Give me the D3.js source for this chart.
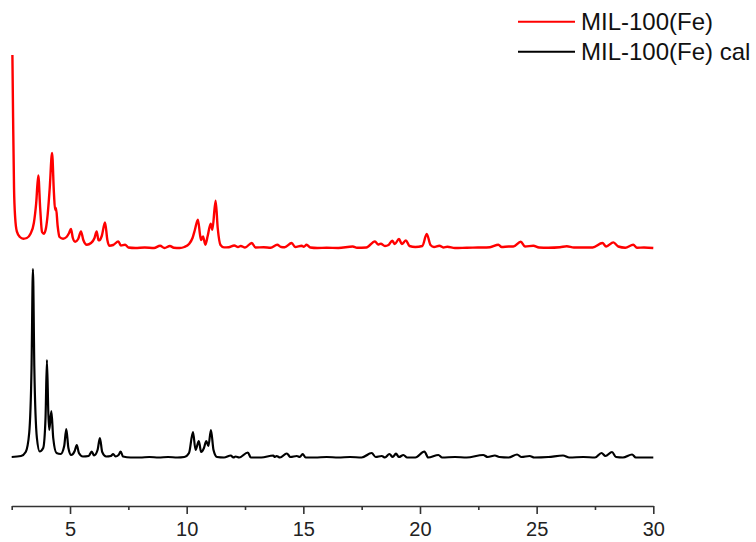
<!DOCTYPE html>
<html>
<head>
<meta charset="utf-8">
<script src="https://cdn.jsdelivr.net/npm/d3@7"></script>
<style>
  html, body { margin: 0; padding: 0; background: #fff; }
  svg { display: block; }
  text { font-family: "Liberation Sans", Arial, sans-serif; }
</style>
</head>
<body>
<svg id="chart" width="756" height="542"></svg>
<script>
// Diffraction angle (2θ, degrees) and intensity (a.u.) for the measured sample
const measured2Theta = [
  2.53, 2.56, 2.6, 2.65, 2.72, 2.85, 3.0, 3.15, 3.3, 3.45, 3.55, 3.64, 3.72, 3.8, 3.88, 3.97,
  4.04, 4.13, 4.23, 4.31, 4.36, 4.4, 4.47, 4.55, 4.7, 4.85, 4.96, 5.04, 5.12, 5.22, 5.35, 5.47,
  5.57, 5.72, 5.9, 6.05, 6.14, 6.22, 6.26, 6.36, 6.5, 6.6, 6.68, 6.85, 7.07, 7.18, 7.36, 7.5,
  7.8, 8.2, 8.6, 8.86, 9.05, 9.28, 9.45, 9.7, 9.9, 10.1, 10.25, 10.35, 10.48, 10.58, 10.62, 10.7,
  10.8, 10.9, 11.03, 11.1, 11.24, 11.33, 11.45, 11.6, 11.8, 12.04, 12.2, 12.32, 12.5, 12.79, 12.95, 13.3,
  13.6, 13.88, 14.05, 14.2, 14.5, 14.65, 14.93, 15.02, 15.14, 15.3, 15.6, 16.0, 16.5, 17.12, 17.3, 17.7,
  18.07, 18.2, 18.32, 18.5, 18.65, 18.81, 18.92, 19.1, 19.22, 19.4, 19.55, 19.8, 20.1, 20.29, 20.45, 20.6,
  20.83, 21.0, 21.17, 21.5, 22.0, 22.5, 23.0, 23.36, 23.5, 23.8, 24.0, 24.32, 24.5, 24.86, 25.1, 25.5,
  26.0, 26.29, 26.6, 27.0, 27.4, 27.82, 27.98, 28.29, 28.5, 28.8, 29.14, 29.3, 29.6, 30.0
];
const measuredIntensity = [
  193, 130, 60, 30, 16.6, 11, 9.3, 10, 14, 25, 45, 72.6, 40, 16, 14.3, 20,
  33, 60, 95, 55, 38, 40, 22, 11, 9.3, 11, 15, 19, 10, 6.3, 9, 16.6,
  8, 3.3, 5, 10, 16.6, 8, 7.6, 12, 25.6, 8, 2.3, 3, 6.6, 2.5, 3.3, 0.5,
  0, 0.5, 0, 2.3, 0, 2, 0.3, 0, 1, 4, 10, 18, 28.3, 12, 8, 11.6,
  3.3, 12, 24.3, 18.3, 47.3, 20, 3, 0.6, 0.8, 2.5, 1, 2, 0.5, 5, 0.5, 0.8,
  0.3, 3.3, 1, 0.8, 5, 1, 2.3, 1.2, 3.3, 0.5, 0, 0.3, 0, 1.5, 0.3, 0.5,
  6.6, 3.5, 4.3, 2, 3, 7.3, 4, 9, 4, 7.6, 2, 1, 2, 14, 3, 1,
  2.3, 0.5, 1.3, 0, 0.3, 0.5, 0.8, 3.3, 1, 1.5, 1.5, 6.3, 1.5, 2.3, 0.5, 0.3,
  0.8, 1.8, 0.5, 0.5, 0.5, 5, 1.5, 5.6, 1.5, 0.3, 3.3, 0.3, 0.5, 0
];

// Simulated pattern from the crystal structure
const calc2Theta = [
  2.5, 2.9, 3.1, 3.25, 3.35, 3.41, 3.47, 3.58, 3.7, 3.85, 3.95, 4.01, 4.07, 4.11, 4.2, 4.28,
  4.42, 4.6, 4.75, 4.84, 4.93, 5.05, 5.2, 5.29, 5.38, 5.55, 5.8, 5.93, 6.03, 6.18, 6.28, 6.38,
  6.55, 6.75, 6.85, 6.95, 7.08, 7.17, 7.27, 7.6, 8.0, 8.4, 8.8, 9.2, 9.6, 9.9, 10.1, 10.27,
  10.38, 10.52, 10.62, 10.74, 10.84, 10.93, 11.04, 11.15, 11.3, 11.6, 11.89, 12.0, 12.1, 12.25, 12.62, 12.75,
  13.2, 13.71, 13.78, 13.85, 14.0, 14.29, 14.45, 14.72, 14.85, 14.97, 15.1, 15.5, 16.0, 16.5, 17.0, 17.5,
  17.93, 18.1, 18.36, 18.5, 18.69, 18.83, 18.97, 19.1, 19.29, 19.45, 19.8, 20.19, 20.35, 20.79, 20.95, 21.5,
  22.0, 22.71, 22.9, 23.21, 23.4, 23.8, 24.16, 24.35, 24.7, 24.9, 25.5, 26.13, 26.4, 27.0, 27.5, 27.78,
  27.95, 28.23, 28.4, 28.7, 29.09, 29.25, 29.6, 30.0
];
const calcIntensity = [
  1, 2, 6, 25, 90, 189, 90, 20, 6.5, 10, 40, 98, 45, 28, 47, 20,
  5, 4, 12, 29, 10, 3, 7, 13, 5, 1.5, 2, 6.5, 2.5, 8, 20, 6,
  1.5, 2, 4, 1.5, 3, 6.5, 1.5, 0.5, 0.5, 1, 0.5, 1, 0.5, 1, 5, 26,
  8, 17, 6, 10, 17, 12, 28, 8, 1, 0.5, 2.5, 0.5, 1.5, 0.5, 5.5, 0.5,
  0.5, 2.5, 1, 2, 0.5, 4.5, 1, 2, 1, 4, 0.5, 0.5, 1, 0.5, 1, 0.5,
  5, 1, 2, 0.5, 4, 1, 4.3, 1, 3, 0.5, 0.5, 6.5, 0.5, 3, 0.5, 1,
  0.5, 3, 1, 2.5, 1, 0.5, 3.5, 1, 2, 0.5, 1, 2.5, 0.5, 1, 0.5, 5,
  2, 6, 1, 0.5, 3.5, 0.5, 0.5, 0.5
];

// Vertical shift that stacks the measured pattern above the simulated one
const measuredOffset = 210;

const xTicks = [5, 10, 15, 20, 25, 30];
const xMinorTicks = [2.5, 7.5, 12.5, 17.5, 22.5, 27.5];

const seriesNames = ["MIL-100(Fe)", "MIL-100(Fe) cal"];
const seriesColors = ["#ff0000", "#000000"];

const svg = d3.select("#chart");

const x = d3.scaleLinear().domain([2.5, 30]).range([11.7, 653.3]);
const y = d3.scaleLinear().domain([0, 450]).range([458, 8]);

const line = d3.line()
  .x(d => x(d[0]))
  .y(d => y(d[1]))
  .curve(d3.curveMonotoneX);

const measured = measured2Theta.map((t, i) => [t, measuredIntensity[i] + measuredOffset]);
const calc = calc2Theta.map((t, i) => [t, calcIntensity[i]]);

svg.append("path")
  .datum(calc)
  .attr("fill", "none")
  .attr("stroke", seriesColors[1])
  .attr("stroke-width", 2.2)
  .attr("stroke-linejoin", "round")
  .attr("d", line);

svg.append("path")
  .datum(measured)
  .attr("fill", "none")
  .attr("stroke", seriesColors[0])
  .attr("stroke-width", 2.4)
  .attr("stroke-linejoin", "round")
  .attr("d", line);

// Bottom axis: major ticks with labels, minor ticks between them
const axisY = 506;
const axisG = svg.append("g").attr("transform", `translate(0,${axisY})`);

axisG.call(d3.axisBottom(x).tickValues(xTicks).tickSize(8).tickSizeOuter(0).tickPadding(8)
  .tickFormat(d3.format("d")));
axisG.append("g").call(d3.axisBottom(x).tickValues(xMinorTicks).tickSize(4).tickFormat(""))
  .select(".domain").remove();

axisG.selectAll("path.domain").attr("stroke", "#333").attr("stroke-width", 1.6);
axisG.selectAll(".tick line").attr("stroke", "#333").attr("stroke-width", 1.6);
axisG.selectAll(".tick text")
  .attr("font-size", 20)
  .attr("fill", "#222")
  .style("font-family", "'Liberation Sans', Arial, sans-serif");

// Legend
const legend = svg.append("g");
seriesNames.forEach((name, i) => {
  const ly = 21.7 + i * 30;
  legend.append("line")
    .attr("x1", 518).attr("x2", 575)
    .attr("y1", ly).attr("y2", ly)
    .attr("stroke", seriesColors[i])
    .attr("stroke-width", 2);
  legend.append("text")
    .attr("x", 581)
    .attr("y", ly)
    .attr("dy", "0.36em")
    .attr("font-size", 24)
    .attr("fill", "#111")
    .text(name);
});
</script>
</body>
</html>
